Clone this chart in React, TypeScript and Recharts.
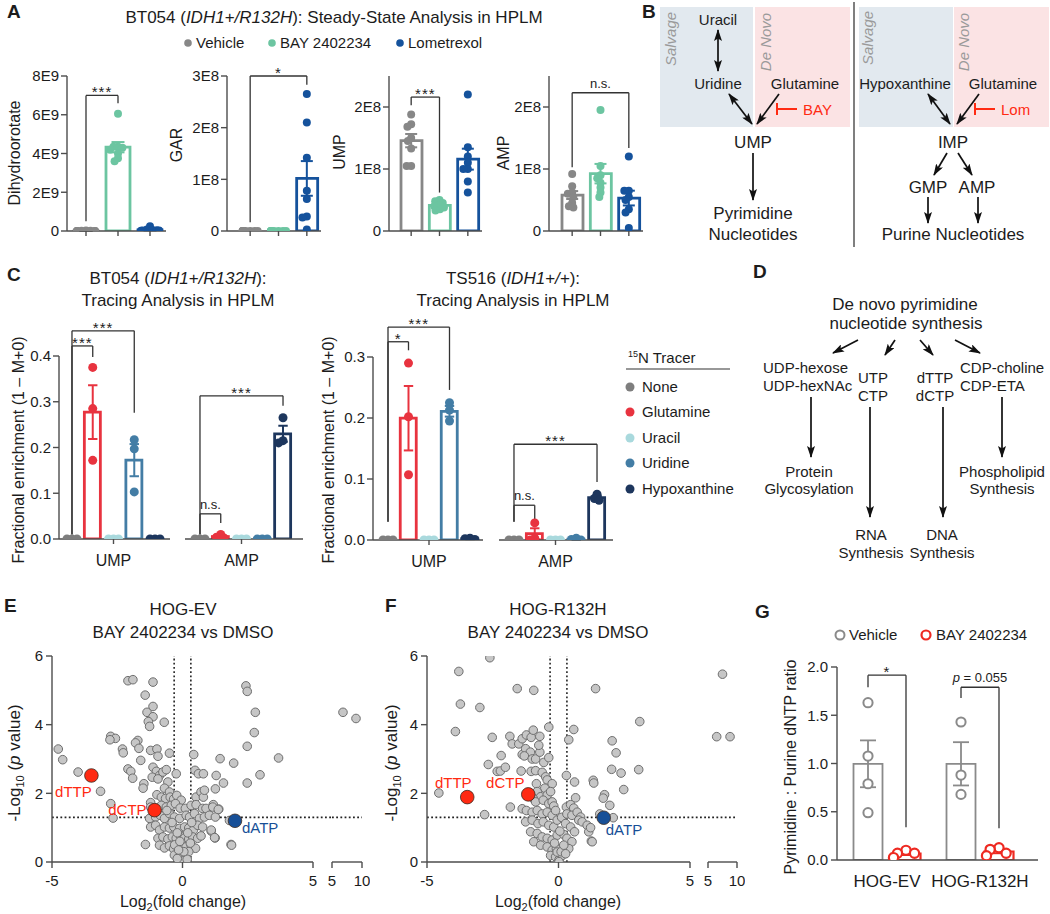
import React from 'react'
import {
  ComposedChart, ScatterChart, Bar, Cell, Scatter, ErrorBar,
  XAxis, YAxis, ReferenceLine,
} from 'recharts'

const FONT = '"Liberation Sans", Arial, Helvetica, sans-serif'
const INK = '#1c1c1c'
const AXIS = '#4d4d4d'
const RED = '#ff2a12'
const BLUE = '#174f97'
const SALV = '#e2e9ef'
const DENOVO = '#fbe3e4'

// ---- A: steady state in HPLM, 8 replicates per arm
const A_GROUPS = ['Vehicle', 'BAY 2402234', 'Lometrexol']
const A_COLORS = ['#878787', '#6cc5a1', '#15529c']

const DHO_VEH = [0.02e9, 0.01e9, 0.01e9, 0, 0, 0, 0, 0]
const DHO_BAY = [6.05e9, 4.35e9, 4.35e9, 4.3e9, 4.2e9, 4.0e9, 3.75e9, 3.6e9]
const DHO_LOM = [0.25e9, 0.08e9, 0.05e9, 0.04e9, 0.03e9, 0.02e9, 0.01e9, 0]
const GAR_VEH = [0, 0, 0, 0, 0, 0, 0, 0]
const GAR_BAY = [0, 0, 0, 0, 0, 0, 0, 0]
const GAR_LOM = [2.65e8, 2.1e8, 1.42e8, 0.78e8, 0.62e8, 0.28e8, 0.26e8, 0.03e8]
const UMP_VEH = [1.88e8, 1.72e8, 1.68e8, 1.5e8, 1.45e8, 1.33e8, 1.05e8, 1.05e8]
const UMP_BAY = [0.5e8, 0.48e8, 0.45e8, 0.42e8, 0.4e8, 0.38e8, 0.35e8, 0.33e8]
const UMP_LOM = [2.2e8, 1.35e8, 1.2e8, 1.1e8, 1.0e8, 1.0e8, 0.8e8, 0.62e8]
const AMP_VEH = [0.92e8, 0.72e8, 0.62e8, 0.6e8, 0.55e8, 0.45e8, 0.4e8, 0.38e8]
const AMP_BAY = [1.95e8, 1.05e8, 0.9e8, 0.85e8, 0.78e8, 0.7e8, 0.62e8, 0.55e8]
const AMP_LOM = [1.2e8, 0.65e8, 0.65e8, 0.55e8, 0.5e8, 0.35e8, 0.3e8, 0.05e8]

const A1_SIG = [{ a: 0, b: 1, y: 7.0e9, ya: 0.5e9, yb: 6.6e9, text: '***' }]
const A2_SIG = [{ a: 0, b: 2, y: 3.0e8, ya: 0.17e8, yb: 2.83e8, text: '*' }]
const A3_SIG = [{ a: 0, b: 1, y: 2.16e8, ya: 2.03e8, yb: 0.62e8, text: '***' }]
const A4_SIG = [{ a: 0, b: 2, y: 2.23e8, ya: 1.03e8, yb: 1.34e8, text: 'n.s.' }]

// ---- C: 15N tracing, fractional enrichment (1 - M+0), triplicates
const C_GROUPS = ['None', 'Glutamine', 'Uracil', 'Uridine', 'Hypoxanthine']
const C_COLORS = ['#7e7e7e', '#e8333f', '#a9d9dd', '#437da5', '#1d365d']

const BT_UMP = [[0, 0, 0], [0.375, 0.285, 0.172], [0, 0, 0], [0.217, 0.197, 0.103], [0, 0, 0]]
const BT_AMP = [[0, 0, 0], [0.01, 0.004, 0.002], [0, 0, 0], [0, 0, 0], [0.265, 0.215, 0.21]]
const TS_UMP = [[0, 0, 0], [0.29, 0.202, 0.107], [0, 0, 0], [0.225, 0.213, 0.195], [0.003, 0.002, 0.001]]
const TS_AMP = [[0, 0, 0], [0.028, 0.003, 0], [0, 0, 0], [0.003, 0.001, 0], [0.075, 0.068, 0.065]]

const BT_UMP_SIG = [
  { a: 0, b: 1, y: 0.422, ya: 0.01, yb: 0.398, text: '***' },
  { a: 0, b: 3, y: 0.455, ya: 0.01, yb: 0.276, text: '***' },
]
const BT_AMP_SIG = [
  { a: 0, b: 4, y: 0.313, ya: 0.01, yb: 0.291, text: '***' },
  { a: 0, b: 1, y: 0.055, ya: 0.01, yb: 0.035, text: 'n.s.' },
]
const TS_UMP_SIG = [
  { a: 0, b: 1, y: 0.325, ya: 0.03, yb: 0.311, text: '*' },
  { a: 0, b: 3, y: 0.349, ya: 0.03, yb: 0.246, text: '***' },
]
const TS_AMP_SIG = [
  { a: 0, b: 4, y: 0.157, ya: 0.03, yb: 0.095, text: '***' },
  { a: 0, b: 1, y: 0.057, ya: 0.03, yb: 0.033, text: 'n.s.' },
]

// ---- E / F: volcano plots, [log2 fold change, -log10 p]
const FC_CUT = 0.32
const P_CUT = 1.301

const E_GRAY = [
  [-2.09, 5.28], [-1.9, 5.31], [-1.13, 5.24], [-1.43, 4.86], [-1.13, 4.53], [-1.36, 4.36], [-1.13, 4.23],
  [-1.31, 4.09], [-1.26, 3.95], [-0.7, 4.07],
  [-2.75, 3.66], [-2.57, 3.6], [-2.78, 3.56], [-1.71, 3.54], [-1.8, 3.47], [-1.67, 3.31], [-2.3, 3.29],
  [-2.27, 3.18], [-1.22, 3.25], [-0.98, 3.29], [-4.76, 3.29], [-4.59, 2.98], [-1.6, 2.96], [-0.94, 3.08],
  [-0.5, 3.17], [0.43, 3.13],
  [-4.0, 2.62], [-3.14, 2.06], [-2.09, 2.71], [-1.98, 2.64], [-1.91, 2.44], [-1.48, 2.28], [-1.51, 2.15],
  [-1.13, 2.76], [-1.0, 2.64], [-0.88, 2.52], [-1.16, 2.47], [-0.94, 2.42], [-0.75, 2.62], [-0.62, 2.69],
  [-0.56, 2.33], [-0.69, 2.15], [-0.5, 2.04], [-0.24, 2.57], [0.48, 2.67], [0.61, 2.57], [0.8, 2.57],
  [-0.98, 1.96], [-2.75, 1.7], [-2.66, 1.28], [-1.22, 1.73], [-1.22, 1.6],
  [-0.81, 1.89], [-0.65, 1.85], [-0.47, 1.89], [-0.34, 1.83], [-0.22, 1.94], [-0.05, 1.8], [0.52, 1.89],
  [0.71, 2.04], [0.8, 1.89], [0.84, 2.09],
  [-1.0, 1.56], [-0.81, 1.65], [-0.62, 1.6], [-0.43, 1.65], [-0.27, 1.7], [-0.09, 1.57], [0.11, 1.56],
  [0.33, 1.65], [0.52, 1.67], [0.77, 1.56], [0.9, 1.56], [1.18, 1.67], [1.39, 1.54],
  [-1.26, 1.27], [-1.03, 1.31], [-0.85, 1.36], [-0.69, 1.27], [-0.5, 1.41], [-0.31, 1.31], [-0.11, 1.27],
  [0.14, 1.36], [0.27, 1.31], [0.46, 1.41], [0.65, 1.27], [0.84, 1.31], [1.03, 1.36], [1.26, 1.31],
  [-1.22, 1.02], [-1.03, 1.07], [-0.88, 0.93], [-0.69, 1.02], [-0.5, 0.99], [-0.33, 1.02], [-0.11, 0.98],
  [0.08, 1.02], [0.24, 0.99], [0.42, 0.93], [0.58, 1.07], [0.77, 1.02], [1.1, 0.9], [1.25, 0.7],
  [-0.94, 0.69], [-0.75, 0.73], [-0.56, 0.67], [-0.39, 0.73], [-0.24, 0.69], [-0.08, 0.76], [0.08, 0.7],
  [0.24, 0.67], [0.39, 0.73], [0.58, 0.69], [0.71, 0.76],
  [-1.42, 0.51], [-0.88, 0.49], [-0.69, 0.41], [-0.5, 0.47], [-0.34, 0.38], [-0.18, 0.44], [-0.01, 0.4],
  [0.14, 0.44], [0.33, 0.49], [0.5, 0.4], [1.86, 0.51],
  [-0.31, 0.2], [-0.14, 0.15], [0.01, 0.11], [0.11, 0.22], [-0.05, 0.25], [0.24, 0.3], [0.0, 0.03],
  [-0.2, 0.1], [0.18, 0.08], [-0.4, 1.15], [-0.2, 0.85], [0.2, 0.85], [0.35, 1.15], [-0.6, 1.5],
  [-0.3, 0.5], [0.3, 0.55], [-0.1, 0.6], [0.05, 0.3], [-0.15, 0.35],
  [2.43, 5.13], [2.48, 4.97], [2.79, 4.36], [2.75, 3.77], [2.48, 3.37], [3.68, 3.03], [1.44, 3.01],
  [1.96, 2.88], [2.97, 2.54], [2.48, 2.3], [1.57, 2.3], [1.29, 2.52], [1.26, 2.13], [1.16, 1.6],
  [1.37, 1.53], [1.1, 0.93], [1.23, 0.71], [1.88, 0.49], [1.8, 1.21],
]
const E_FAR = [[6.83, 4.36], [9.0, 4.18]]
const E_HITS = [
  { name: 'dTTP', x: -3.49, y: 2.52 },
  { name: 'dCTP', x: -1.07, y: 1.51 },
  { name: 'dATP', x: 2.01, y: 1.2 },
]

const F_GRAY = [
  [-2.61, 5.95], [-3.79, 5.55], [-3.73, 4.6], [-2.99, 4.5], [-3.92, 3.8], [-1.57, 5.05], [-0.94, 5.0],
  [-2.52, 3.63], [-2.18, 3.1], [-2.67, 2.84], [-2.33, 2.64], [-2.21, 2.65], [-2.02, 2.76], [-4.55, 2.01],
  [-2.81, 1.38], [-1.83, 1.6],
  [-1.85, 3.66], [-1.76, 3.44], [-1.51, 3.44], [-1.38, 3.59], [-1.22, 3.7], [-1.04, 3.63], [-0.96, 3.84],
  [-0.71, 3.66], [-0.37, 3.93],
  [-1.38, 3.13], [-1.25, 3.3], [-1.07, 3.2], [-1.3, 3.09], [-1.0, 3.0], [-0.87, 3.0], [-0.71, 3.2],
  [-0.75, 3.4], [-0.56, 2.9], [-0.37, 3.04],
  [-1.42, 2.65], [-1.04, 2.64], [-0.87, 2.66], [-0.62, 2.61], [-0.49, 2.48], [-0.84, 2.28], [-0.43, 2.39],
  [-0.24, 2.28], [-0.52, 2.15], [-0.81, 2.05], [-0.68, 1.9], [-0.43, 1.95], [-0.3, 2.05],
  [-0.96, 1.85], [-0.87, 1.75], [-0.58, 1.8], [-0.37, 1.7], [-0.24, 1.75], [-0.18, 1.63],
  [-1.38, 1.55], [-1.22, 1.5], [-1.0, 1.45], [-0.81, 1.5], [-0.62, 1.4], [-0.43, 1.45], [-0.24, 1.36],
  [-0.11, 1.5],
  [-1.25, 1.17], [-1.0, 1.22], [-0.78, 1.12], [-0.58, 1.17], [-0.37, 1.07], [-0.18, 1.02], [-0.05, 1.22],
  [-1.06, 0.88], [-0.81, 0.83], [-0.62, 0.73], [-0.43, 0.69], [-0.24, 0.64], [-0.05, 0.78],
  [-0.94, 0.59], [-0.68, 0.49], [-0.43, 0.44], [-0.24, 0.34], [-0.08, 0.39],
  [-0.3, 0.19], [-0.11, 0.15], [0.02, 0.06], [0.14, 0.19], [-0.05, 0.29], [0.02, 0.01],
  [0.1, 0.3], [0.2, 0.8], [-0.15, 0.55], [0.12, 1.3], [0.05, 0.9],
  [0.3, 2.52], [0.39, 3.56], [0.58, 3.86], [0.61, 2.33], [0.65, 1.87], [0.3, 1.6], [0.46, 1.67],
  [0.58, 1.57], [0.32, 1.4], [0.51, 1.36], [0.71, 1.45], [0.84, 1.31], [0.77, 1.22], [0.9, 1.17],
  [1.09, 1.07], [1.15, 0.88], [1.25, 0.61], [0.27, 1.12], [0.46, 1.02], [0.61, 0.88], [0.32, 0.69],
  [0.51, 0.59], [0.39, 0.39], [0.27, 0.24], [0.2, 0.49],
  [1.41, 5.05], [3.09, 4.09], [2.04, 3.53], [2.19, 3.18], [2.02, 2.7], [2.38, 2.59], [3.05, 2.69],
  [1.32, 2.38], [1.34, 2.3], [2.48, 2.11], [1.75, 1.96], [1.7, 1.86], [1.95, 1.65], [1.57, 1.4],
  [2.08, 1.29], [1.22, 1.0], [1.28, 0.59],
]
const F_FAR = [[7.5, 5.47], [6.5, 3.65], [8.8, 3.65]]
const F_HITS = [
  { name: 'dTTP', x: -3.47, y: 1.89 },
  { name: 'dCTP', x: -1.15, y: 1.97 },
  { name: 'dATP', x: 1.72, y: 1.29 },
]

// ---- G: pyrimidine : purine dNTP ratio
const G_CELLS = ['HOG-EV', 'HOG-R132H']
const G_VEH = [[1.63, 1.077, 0.79, 0.49], [1.43, 0.88, 0.68]]
const G_BAY = [[0.1, 0.07, 0.07, 0.025], [0.127, 0.11, 0.07, 0.045]]
const G_SIG = [
  { y: 1.915, ya: 1.79, yb: 0.34, text: '*' },
  { y: 1.79, ya: 1.68, yb: 0.33, text: 'p = 0.055' },
]
const G_COLORS = ['#8a8a8a', '#ee2a22']
const G_BAR = 29
const G_GAP = 9

const HIT_COLORS: Record<string, string> = { dTTP: RED, dCTP: RED, dATP: BLUE }
const E_LABELS: Record<string, [number, number, string]> = {
  dTTP: [-18, 22, 'middle'], dCTP: [-8, 5, 'end'], dATP: [7, 12, 'start'],
}
const F_LABELS: Record<string, [number, number, string]> = {
  dTTP: [-14, -9, 'middle'], dCTP: [-23, -6, 'middle'], dATP: [2, 17, 'start'],
}

const mean = (v: number[]) => v.reduce((s, x) => s + x, 0) / v.length
const sem = (v: number[]) => {
  const m = mean(v)
  return Math.sqrt(v.reduce((s, x) => s + (x - m) ** 2, 0) / (v.length - 1)) / Math.sqrt(v.length)
}
const sci = (p: number) => (v: number) => (v === 0 ? '0' : `${Math.round(v / 10 ** p)}E${p}`)
const fix1 = (v: number) => v.toFixed(1)

// simple beeswarm: horizontal pixel offsets so dots don't pile up
function swarm(vals: number[], ppu: number, d: number, lim: number) {
  const placed: { x: number; y: number }[] = []
  return vals.map(v => {
    const y = v * ppu
    const blocks = placed
      .filter(q => Math.abs(q.y - y) < d)
      .map(q => {
        const w = Math.sqrt(d * d - (q.y - y) ** 2)
        return [q.x - w, q.x + w]
      })
    const cands = [0, ...blocks.flat()].sort((a, b) => Math.abs(a) - Math.abs(b))
    const free = cands.find(c => blocks.every(([lo, hi]) => c <= lo + 1e-6 || c >= hi - 1e-6))
    const x = Math.max(-lim, Math.min(lim, free ?? 0))
    placed.push({ x, y })
    return x
  })
}

const axisStyle = { stroke: AXIS, strokeWidth: 1.4 }
const tickFont = { fontSize: 15, fill: INK, fontFamily: FONT }

function BracketText(props: any) {
  const vb = props.viewBox ?? {}
  const x = vb.x1 != null ? (vb.x1 + vb.x2) / 2 : (vb.x ?? 0) + (vb.width ?? 0) / 2
  const y = vb.y1 != null ? Math.min(vb.y1, vb.y2) : vb.y ?? 0
  const t: string = props.text
  const star = t.startsWith('*')
  return (
    <text x={x} y={star ? y + 2 : y - 5} textAnchor="middle" fontSize={star ? 15 : 13}
      fill={INK} fontFamily={FONT} letterSpacing={star ? 1 : 0}>
      {t.startsWith('p') ? <><tspan fontStyle="italic">p</tspan>{t.slice(1)}</> : t}
    </text>
  )
}

function bracket(key: string, xa: number, xb: number, b: { y: number; ya: number; yb: number; text: string }) {
  const common = { xAxisId: 'pos', stroke: '#333', strokeWidth: 1.3, ifOverflow: 'visible' as const }
  return [
    <ReferenceLine key={key + 'l'} {...common} segment={[{ x: xa, y: b.ya }, { x: xa, y: b.y }]} />,
    <ReferenceLine key={key + 't'} {...common} segment={[{ x: xa, y: b.y }, { x: xb, y: b.y }]}
      label={<BracketText text={b.text} />} />,
    <ReferenceLine key={key + 'r'} {...common} segment={[{ x: xb, y: b.y }, { x: xb, y: b.yb }]} />,
  ]
}

type Box = { left: number; top: number; width: number; height: number }
type Plot = { x0: number; x1: number; y0: number; y1: number }

function DotBarChart(p: {
  box: Box; plot: Plot; groups: string[]; colors: string[]; values: number[][]
  domain: [number, number]; ticks?: number[]; fmt?: (v: number) => string
  pad: [number, number]; barSize: number; stroke: number; r: number; swarmD: number; capW: number
  brackets: { a: number; b: number; y: number; ya: number; yb: number; text: string }[]
  catLabel?: string; hideY?: boolean; xh: number
}) {
  const { box, plot, groups, colors, values, domain } = p
  const n = groups.length
  const bars = groups.map((g, i) => ({ g, mean: mean(values[i]) }))
  const ppu = (plot.y1 - plot.y0) / (domain[1] - domain[0])
  const band = (plot.x1 - plot.x0 - p.pad[0] - p.pad[1]) / n
  const lim = p.barSize / 2 - 3
  const points = values.map((vals, i) => {
    const offs = swarm(vals, ppu, p.swarmD, lim)
    return vals.map((v, k) => ({ x: i + 0.5 + offs[k] / band, y: v }))
  })
  const margin = {
    top: plot.y0 - box.top,
    right: box.left + box.width - plot.x1,
    bottom: box.top + box.height - plot.y1 - p.xh,
    left: p.hideY ? plot.x0 - box.left : 0,
  }
  return (
    <div style={{ position: 'absolute', left: box.left, top: box.top }}>
      <ComposedChart width={box.width} height={box.height} data={bars} margin={margin}>
        <XAxis dataKey="g" type="category" height={p.xh} padding={{ left: p.pad[0], right: p.pad[1] }}
          axisLine={axisStyle} tickLine={axisStyle} tickSize={5} tickMargin={11} interval={0}
          ticks={p.catLabel ? [groups[Math.floor(n / 2)]] : undefined}
          tickFormatter={() => p.catLabel ?? ''} tick={{ ...tickFont, fontSize: 16 }} />
        <XAxis xAxisId="pos" dataKey="x" type="number" domain={[0, n]} hide allowDataOverflow
          padding={{ left: p.pad[0], right: p.pad[1] }} />
        <YAxis type="number" domain={domain} ticks={p.ticks} tickFormatter={p.fmt} allowDataOverflow
          interval={0} width={plot.x0 - box.left} hide={p.hideY} axisLine={axisStyle}
          tickLine={axisStyle} tickSize={6} tickMargin={2} tick={tickFont} />
        <Bar dataKey="mean" barSize={p.barSize} fill="#fff" strokeWidth={p.stroke} isAnimationActive={false}>
          {bars.map((_, i) => <Cell key={i} stroke={colors[i]} />)}
        </Bar>
        {p.brackets.flatMap((b, k) => bracket(`b${k}`, b.a + 0.5, b.b + 0.5, b))}
        {values.map((v, i) => (sem(v) > 0 ? (
          <Scatter key={`e${i}`} xAxisId="pos" dataKey="y" data={[{ x: i + 0.5, y: mean(v), e: sem(v) }]}
            shape={() => <g />} isAnimationActive={false}>
            <ErrorBar dataKey="e" direction="y" width={p.capW} stroke={colors[i]} strokeWidth={2} />
          </Scatter>
        ) : null))}
        {points.map((pts, i) => (
          <Scatter key={`p${i}`} xAxisId="pos" dataKey="y" data={pts} isAnimationActive={false}
            shape={(s: any) => <circle cx={s.cx} cy={s.cy} r={p.r} fill={colors[i]} />} />
        ))}
      </ComposedChart>
    </div>
  )
}

function Volcano(p: {
  box: Box; plot: Plot; xDomain: [number, number]; xTicks: number[]; pts: number[][]
  hits?: { name: string; x: number; y: number }[]; labels?: Record<string, [number, number, string]>
  hideY?: boolean; lineTo: number; showVert?: boolean
}) {
  const { box, plot } = p
  const xh = 30
  const margin = {
    top: plot.y0 - box.top,
    right: box.left + box.width - plot.x1,
    bottom: box.top + box.height - plot.y1 - xh,
    left: p.hideY ? plot.x0 - box.left : 0,
  }
  const gray = p.pts.map(([x, y]) => ({ x, y }))
  const dotted = { stroke: '#222', strokeWidth: 1.6, strokeDasharray: '1.8 2.4' }
  return (
    <div style={{ position: 'absolute', left: box.left, top: box.top }}>
      <ScatterChart width={box.width} height={box.height} margin={margin}>
        <XAxis type="number" dataKey="x" domain={p.xDomain} ticks={p.xTicks} interval={0} allowDataOverflow
          height={xh} axisLine={axisStyle} tickLine={axisStyle} tickSize={6} tickMargin={7} tick={tickFont} />
        <YAxis type="number" dataKey="y" domain={[0, 6]} ticks={[0, 2, 4, 6]} interval={0} allowDataOverflow
          width={plot.x0 - box.left} hide={p.hideY} axisLine={axisStyle} tickLine={axisStyle}
          tickSize={6} tickMargin={3} tick={tickFont} />
        {p.showVert && <ReferenceLine x={-FC_CUT} {...dotted} />}
        {p.showVert && <ReferenceLine x={FC_CUT} {...dotted} />}
        <ReferenceLine segment={[{ x: p.xDomain[0], y: P_CUT }, { x: p.lineTo, y: P_CUT }]}
          ifOverflow="visible" {...dotted} />
        <Scatter data={gray} isAnimationActive={false}
          shape={(s: any) => <circle cx={s.cx} cy={s.cy} r={4.3} fill="#c6c6c6" stroke="#6e6e6e" strokeWidth={1} />} />
        {p.hits && (
          <Scatter data={p.hits} isAnimationActive={false}
            shape={(s: any) => {
              const name = s.payload.name
              const c = HIT_COLORS[name]
              const [dx, dy, anchor] = p.labels![name]
              return (
                <g>
                  <circle cx={s.cx} cy={s.cy} r={6.8} fill={c} stroke="#3a2a20" strokeWidth={0.8} />
                  <text x={s.cx + dx} y={s.cy + dy} textAnchor={anchor as any} fontSize={15} fill={c}
                    fontFamily={FONT}>{name}</text>
                </g>
              )
            }} />
        )}
      </ScatterChart>
    </div>
  )
}

function RatioChart() {
  const box = { left: 795, top: 648, width: 250, height: 245 }
  const plot = { x0: 837, x1: 1038, y0: 667, y1: 860 }
  const pad: [number, number] = [3.5, 11.5]
  const xh = 32
  const n = G_CELLS.length
  const band = (plot.x1 - plot.x0 - pad[0] - pad[1]) / n
  const dodge = (G_BAR + G_GAP) / 2 / band
  const ppu = (plot.y1 - plot.y0) / 2
  const data = G_CELLS.map((c, i) => ({
    c, veh: mean(G_VEH[i]), vehE: sem(G_VEH[i]), bay: mean(G_BAY[i]), bayE: sem(G_BAY[i]),
  }))
  const dots = (sets: number[][], side: number) => sets.flatMap((vals, i) => {
    const offs = swarm(vals, ppu, 9, G_BAR / 2 - 2)
    return vals.map((v, k) => ({ x: i + 0.5 + side * dodge + offs[k] / band, y: v }))
  })
  const margin = {
    top: plot.y0 - box.top,
    right: box.left + box.width - plot.x1,
    bottom: box.top + box.height - plot.y1 - xh,
    left: 0,
  }
  return (
    <div style={{ position: 'absolute', left: box.left, top: box.top }}>
      <ComposedChart width={box.width} height={box.height} data={data} margin={margin} barGap={G_GAP}>
        <XAxis dataKey="c" type="category" height={xh} padding={{ left: pad[0], right: pad[1] }}
          axisLine={axisStyle} tickLine={false} tickSize={0} tickMargin={15} interval={0}
          tick={{ ...tickFont, fontSize: 17 }} />
        <XAxis xAxisId="pos" dataKey="x" type="number" domain={[0, n]} hide allowDataOverflow
          padding={{ left: pad[0], right: pad[1] }} />
        <YAxis type="number" domain={[0, 2]} ticks={[0, 0.5, 1, 1.5, 2]} tickFormatter={fix1} allowDataOverflow
          interval={0} width={plot.x0 - box.left} axisLine={axisStyle} tickLine={axisStyle}
          tickSize={6} tickMargin={3} tick={tickFont} />
        <Bar dataKey="veh" barSize={G_BAR} fill="#fff" stroke={G_COLORS[0]} strokeWidth={1.8} isAnimationActive={false}>
          <ErrorBar dataKey="vehE" direction="y" width={8} stroke={G_COLORS[0]} strokeWidth={1.8} />
        </Bar>
        <Bar dataKey="bay" barSize={G_BAR} fill="#fff" stroke={G_COLORS[1]} strokeWidth={2.2} isAnimationActive={false}>
          <ErrorBar dataKey="bayE" direction="y" width={8} stroke={G_COLORS[1]} strokeWidth={1.8} />
        </Bar>
        {G_SIG.flatMap((b, i) => bracket(`g${i}`, i + 0.5 - dodge, i + 0.5 + dodge, b))}
        <Scatter xAxisId="pos" dataKey="y" data={dots(G_VEH, -1)} isAnimationActive={false}
          shape={(s: any) => <circle cx={s.cx} cy={s.cy} r={4.6} fill="#fff" stroke={G_COLORS[0]} strokeWidth={2} />} />
        <Scatter xAxisId="pos" dataKey="y" data={dots(G_BAY, 1)} isAnimationActive={false}
          shape={(s: any) => <circle cx={s.cx} cy={s.cy} r={4.6} fill="#fff" stroke={G_COLORS[1]} strokeWidth={2.2} />} />
      </ComposedChart>
    </div>
  )
}

function Arrow({ x1, y1, x2, y2, both }: { x1: number; y1: number; x2: number; y2: number; both?: boolean }) {
  return (
    <line x1={x1} y1={y1} x2={x2} y2={y2} stroke="#111" strokeWidth={1.7}
      markerEnd="url(#ah)" markerStart={both ? 'url(#ah)' : undefined} />
  )
}

function T({ x, y, s = 15, a = 'middle', c = INK, children, ...rest }: any) {
  return <text x={x} y={y} fontSize={s} textAnchor={a} fill={c} {...rest}>{children}</text>
}

function VText({ x, y, s = 16, children, ...rest }: any) {
  return (
    <text transform={`translate(${x},${y}) rotate(-90)`} dy="0.35em" textAnchor="middle" fontSize={s}
      fill={INK} {...rest}>{children}</text>
  )
}

function Overlay() {
  const legendY = [387, 412, 438, 463, 489]
  return (
    <svg width={1050} height={914} style={{ position: 'absolute', left: 0, top: 0 }} fontFamily={FONT}>
      <defs>
        <marker id="ah" viewBox="0 0 12 8" refX="11" refY="4" markerWidth="12" markerHeight="8"
          markerUnits="userSpaceOnUse" orient="auto-start-reverse">
          <path d="M0,0 L12,4 L0,8 L2.5,4 z" fill="#111" />
        </marker>
      </defs>

      {/* panel letters */}
      {[['A', 7, 18], ['B', 642, 18], ['C', 7, 281], ['D', 753, 278], ['E', 4, 612], ['F', 385, 612], ['G', 755, 618]].map(
        ([l, x, y]) => <T key={l as string} x={x} y={y} s={19} a="start" fontWeight="bold">{l}</T>)}

      {/* A title + legend */}
      <T x={334} y={23} s={17}>BT054 (<tspan fontStyle="italic">IDH1+/R132H</tspan>): Steady-State Analysis in HPLM</T>
      {[188, 272, 400].map((x, i) => (
        <g key={x}>
          <circle cx={x} cy={43} r={3.8} fill={A_COLORS[i]} />
          <T x={x + 8} y={48} a="start">{A_GROUPS[i]}</T>
        </g>
      ))}
      <VText x={14} y={153}>Dihydroorotate</VText>
      <VText x={176} y={145}>GAR</VText>
      <VText x={339} y={152}>UMP</VText>
      <VText x={503} y={153}>AMP</VText>

      {/* B: pathway schematic */}
      <rect x={660} y={7} width={93} height={120} fill={SALV} />
      <rect x={755} y={7} width={95} height={120} fill={DENOVO} />
      <rect x={859} y={7} width={94} height={120} fill={SALV} />
      <rect x={954} y={7} width={95} height={120} fill={DENOVO} />
      <line x1={854} y1={2} x2={854} y2={247} stroke="#555" strokeWidth={1.5} />
      <VText x={671} y={39} s={15} fontStyle="italic" fill="#9a9a9a">Salvage</VText>
      <VText x={766} y={42} s={15} fontStyle="italic" fill="#9a9a9a">De Novo</VText>
      <VText x={868} y={38} s={15} fontStyle="italic" fill="#9a9a9a">Salvage</VText>
      <VText x={964} y={42} s={15} fontStyle="italic" fill="#9a9a9a">De Novo</VText>
      <T x={718} y={25}>Uracil</T>
      <T x={718} y={89}>Uridine</T>
      <T x={805} y={89}>Glutamine</T>
      <T x={753} y={148} s={17}>UMP</T>
      <T x={753} y={219} s={17}>Pyrimidine</T>
      <T x={753} y={240} s={17}>Nucleotides</T>
      <Arrow x1={718} y1={30} x2={718} y2={71} both />
      <Arrow x1={729} y1={94} x2={752} y2={124} both />
      <Arrow x1={779} y1={94} x2={757} y2={124} />
      <Arrow x1={753} y1={153} x2={753} y2={200} />
      <line x1={797} y1={109} x2={777} y2={109} stroke={RED} strokeWidth={2} />
      <line x1={777} y1={103} x2={777} y2={115} stroke={RED} strokeWidth={2} />
      <T x={803} y={115} a="start" c={RED}>BAY</T>

      <T x={905} y={89}>Hypoxanthine</T>
      <T x={1003} y={89}>Glutamine</T>
      <T x={953} y={148} s={17}>IMP</T>
      <T x={928} y={193} s={17}>GMP</T>
      <T x={977} y={193} s={17}>AMP</T>
      <T x={953} y={240} s={17}>Purine Nucleotides</T>
      <Arrow x1={928} y1={94} x2={950} y2={124} both />
      <Arrow x1={979} y1={94} x2={957} y2={124} />
      <Arrow x1={947} y1={153} x2={934} y2={175} />
      <Arrow x1={958} y1={153} x2={972} y2={175} />
      <Arrow x1={928} y1={197} x2={928} y2={223} />
      <Arrow x1={978} y1={197} x2={978} y2={223} />
      <line x1={995} y1={109} x2={975} y2={109} stroke={RED} strokeWidth={2} />
      <line x1={975} y1={103} x2={975} y2={115} stroke={RED} strokeWidth={2} />
      <T x={1001} y={115} a="start" c={RED}>Lom</T>

      {/* C titles + legend */}
      <T x={178} y={284} s={17}>BT054 (<tspan fontStyle="italic">IDH1+/R132H</tspan>):</T>
      <T x={178} y={306} s={17}>Tracing Analysis in HPLM</T>
      <T x={513} y={284} s={17}>TS516 (<tspan fontStyle="italic">IDH1+/+</tspan>):</T>
      <T x={513} y={306} s={17}>Tracing Analysis in HPLM</T>
      <VText x={18} y={450}>Fractional enrichment (1 – M+0)</VText>
      <VText x={328} y={450}>Fractional enrichment (1 – M+0)</VText>
      <T x={628} y={363} a="start"><tspan fontSize={9} dy={-6}>15</tspan><tspan dy={6}>N Tracer</tspan></T>
      <line x1={626} y1={369} x2={730} y2={369} stroke="#333" strokeWidth={1.2} />
      {C_GROUPS.map((g, i) => (
        <g key={g}>
          <circle cx={630} cy={legendY[i]} r={4.5} fill={C_COLORS[i]} />
          <T x={642} y={legendY[i] + 5} a="start">{g}</T>
        </g>
      ))}

      {/* D schematic */}
      <T x={905} y={310} s={17}>De novo pyrimidine</T>
      <T x={906} y={329} s={17}>nucleotide synthesis</T>
      <Arrow x1={858} y1={340} x2={833} y2={353} />
      <Arrow x1={895} y1={340} x2={885} y2={355} />
      <Arrow x1={920} y1={340} x2={933} y2={355} />
      <Arrow x1={955} y1={340} x2={980} y2={353} />
      <T x={763} y={373} a="start">UDP-hexose</T>
      <T x={763} y={391} a="start">UDP-hexNAc</T>
      <T x={873} y={383}>UTP</T>
      <T x={873} y={401}>CTP</T>
      <T x={935} y={383}>dTTP</T>
      <T x={935} y={401}>dCTP</T>
      <T x={960} y={373} a="start">CDP-choline</T>
      <T x={960} y={391} a="start">CDP-ETA</T>
      <Arrow x1={811} y1={397} x2={811} y2={457} />
      <Arrow x1={870} y1={407} x2={870} y2={517} />
      <Arrow x1={943} y1={407} x2={943} y2={517} />
      <Arrow x1={1002} y1={397} x2={1002} y2={457} />
      <T x={809} y={477}>Protein</T>
      <T x={809} y={494}>Glycosylation</T>
      <T x={1002} y={477}>Phospholipid</T>
      <T x={1002} y={494}>Synthesis</T>
      <T x={871} y={540}>RNA</T>
      <T x={871} y={558}>Synthesis</T>
      <T x={942} y={540}>DNA</T>
      <T x={942} y={558}>Synthesis</T>

      {/* E / F titles and axis labels */}
      <T x={183} y={615} s={17}>HOG-EV</T>
      <T x={183} y={638} s={17}>BAY 2402234 vs DMSO</T>
      <T x={558} y={615} s={17}>HOG-R132H</T>
      <T x={558} y={638} s={17}>BAY 2402234 vs DMSO</T>
      {[14, 391].map(x => (
        <VText key={x} x={x} y={763} s={17}>-Log<tspan fontSize={11} dy={4}>10</tspan><tspan dy={-4}> (</tspan><tspan fontStyle="italic">p</tspan> value)</VText>
      ))}
      {[183, 558].map(x => (
        <T key={x} x={x} y={907} s={16}>Log<tspan fontSize={11} dy={4}>2</tspan><tspan dy={-4}>(fold change)</tspan></T>
      ))}

      {/* G legend + label */}
      <circle cx={840} cy={635} r={4.5} fill="#fff" stroke={G_COLORS[0]} strokeWidth={2} />
      <T x={849} y={640} a="start">Vehicle</T>
      <circle cx={926} cy={635} r={4.5} fill="#fff" stroke={G_COLORS[1]} strokeWidth={2.2} />
      <T x={936} y={640} a="start">BAY 2402234</T>
      <VText x={790} y={767}>Pyrimidine : Purine dNTP ratio</VText>
    </svg>
  )
}

export default function App() {
  const aCommon = { groups: A_GROUPS, colors: A_COLORS, stroke: 2.8, r: 4, swarmD: 4.5, xh: 12 }
  const cCommon = { groups: C_GROUPS, colors: C_COLORS, stroke: 2.8, r: 4.5, swarmD: 5, capW: 4.7, barSize: 16, xh: 32 }
  return (
    <div style={{
      position: 'absolute', left: 0, top: 0, width: 1050, height: 914, background: '#fff',
      fontFamily: FONT, overflow: 'hidden',
    }}>
      <Overlay />

      <DotBarChart {...aCommon} box={{ left: 10, top: 52, width: 160, height: 191 }}
        plot={{ x0: 67, x1: 166, y0: 76, y1: 231 }} values={[DHO_VEH, DHO_BAY, DHO_LOM]}
        domain={[0, 8e9]} ticks={[0, 2e9, 4e9, 6e9, 8e9]} fmt={sci(9)} pad={[3, 0]} barSize={24}
        capW={6.5} brackets={A1_SIG} />
      <DotBarChart {...aCommon} box={{ left: 175, top: 52, width: 150, height: 191 }}
        plot={{ x0: 227, x1: 321, y0: 76, y1: 231 }} values={[GAR_VEH, GAR_BAY, GAR_LOM]}
        domain={[0, 3e8]} ticks={[0, 1e8, 2e8, 3e8]} fmt={sci(8)} pad={[9, 0]} barSize={21}
        capW={6} brackets={A2_SIG} />
      <DotBarChart {...aCommon} box={{ left: 340, top: 52, width: 146, height: 191 }}
        plot={{ x0: 389, x1: 482, y0: 76, y1: 231 }} values={[UMP_VEH, UMP_BAY, UMP_LOM]}
        domain={[0, 2.5e8]} ticks={[0, 1e8, 2e8]} fmt={sci(8)} pad={[8, 0]} barSize={21}
        capW={6} brackets={A3_SIG} />
      <DotBarChart {...aCommon} box={{ left: 500, top: 52, width: 148, height: 191 }}
        plot={{ x0: 549, x1: 643, y0: 76, y1: 231 }} values={[AMP_VEH, AMP_BAY, AMP_LOM]}
        domain={[0, 2.5e8]} ticks={[0, 1e8, 2e8]} fmt={sci(8)} pad={[9, 0]} barSize={21}
        capW={6} brackets={A4_SIG} />

      <DotBarChart {...cCommon} box={{ left: 25, top: 305, width: 150, height: 266 }}
        plot={{ x0: 59, x1: 170, y0: 356, y1: 539 }} values={BT_UMP} domain={[0, 0.4]}
        ticks={[0, 0.1, 0.2, 0.3, 0.4]} fmt={fix1} pad={[2.6, 4.6]} catLabel="UMP" brackets={BT_UMP_SIG} />
      <DotBarChart {...cCommon} box={{ left: 180, top: 305, width: 128, height: 266 }}
        plot={{ x0: 185, x1: 303, y0: 356, y1: 539 }} values={BT_AMP} domain={[0, 0.4]} hideY
        pad={[4.6, 9.6]} catLabel="AMP" brackets={BT_AMP_SIG} />
      <DotBarChart {...cCommon} box={{ left: 340, top: 305, width: 147, height: 267 }}
        plot={{ x0: 373, x1: 483, y0: 357, y1: 540 }} values={TS_UMP} domain={[0, 0.3]}
        ticks={[0, 0.1, 0.2, 0.3]} fmt={fix1} pad={[4.75, 2.75]} catLabel="UMP" brackets={TS_UMP_SIG} />
      <DotBarChart {...cCommon} box={{ left: 493, top: 305, width: 125, height: 267 }}
        plot={{ x0: 499, x1: 613, y0: 357, y1: 540 }} values={TS_AMP} domain={[0, 0.3]} hideY
        pad={[4.6, 5.6]} catLabel="AMP" brackets={TS_AMP_SIG} />

      <Volcano box={{ left: 0, top: 640, width: 345, height: 252 }} plot={{ x0: 52, x1: 313, y0: 656, y1: 862 }}
        xDomain={[-5, 5]} xTicks={[-5, 0, 5]} pts={E_GRAY} hits={E_HITS} labels={E_LABELS}
        lineTo={5.75} showVert />
      <Volcano box={{ left: 325, top: 640, width: 45, height: 252 }} plot={{ x0: 332, x1: 362, y0: 656, y1: 862 }}
        xDomain={[5, 10]} xTicks={[5, 10]} pts={E_FAR} hideY lineTo={10} />
      <Volcano box={{ left: 375, top: 640, width: 345, height: 252 }} plot={{ x0: 427, x1: 690, y0: 656, y1: 862 }}
        xDomain={[-5, 5]} xTicks={[-5, 0, 5]} pts={F_GRAY} hits={F_HITS} labels={F_LABELS}
        lineTo={5.7} showVert />
      <Volcano box={{ left: 700, top: 640, width: 45, height: 252 }} plot={{ x0: 708, x1: 737, y0: 656, y1: 862 }}
        xDomain={[5, 10]} xTicks={[5, 10]} pts={F_FAR} hideY lineTo={10} />

      <RatioChart />
    </div>
  )
}
